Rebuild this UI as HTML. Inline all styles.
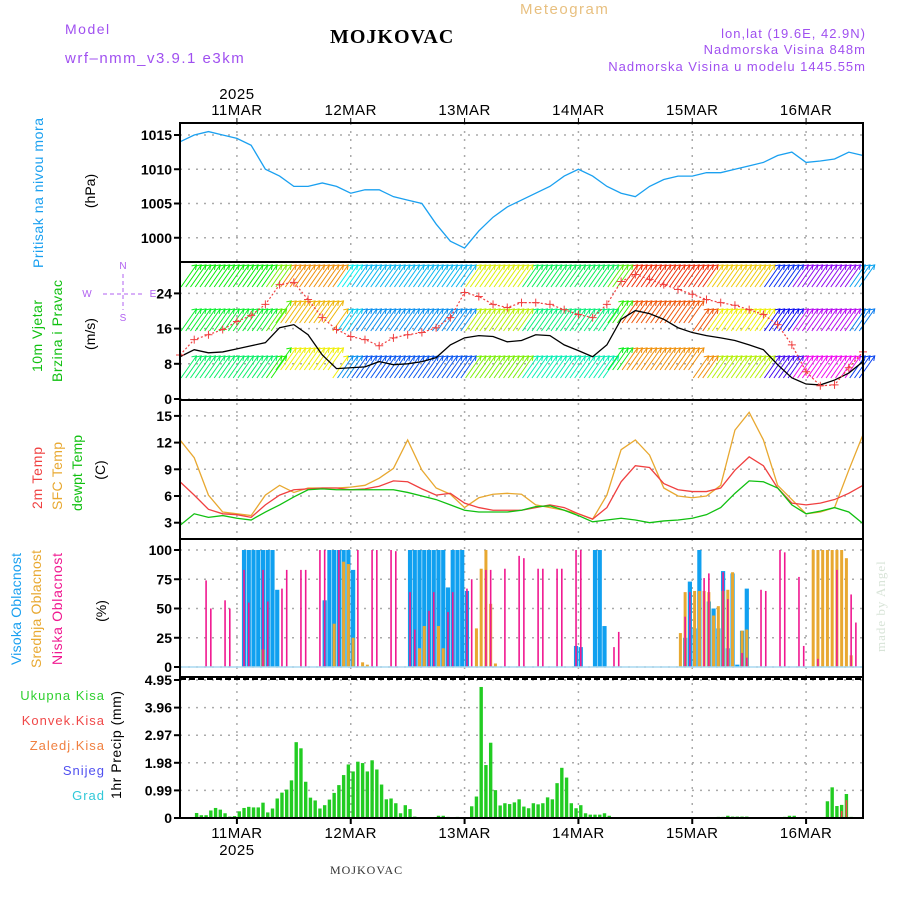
<!DOCTYPE html>
<html><head><meta charset="utf-8"><style>
body{margin:0;background:#fff;}
svg{display:block;font-family:"Liberation Sans",sans-serif;}
</style></head><body>
<svg id="chart" width="900" height="900" viewBox="0 0 900 900" xmlns="http://www.w3.org/2000/svg">
<rect width="900" height="900" fill="#fff"/>
<text x="65" y="34" font-size="14" fill="#a050f0" letter-spacing="1.5">Model</text>
<text x="65" y="63" font-size="15" fill="#a050f0" letter-spacing="1.5">wrf–nmm_v3.9.1 e3km</text>
<text x="330" y="43" font-size="20" font-weight="bold" font-family="Liberation Serif,serif" fill="#000" letter-spacing="1">MOJKOVAC</text>
<text x="520" y="14" font-size="15" fill="#e8c080" letter-spacing="1.5">Meteogram</text>
<text x="866" y="38" font-size="13" fill="#a050f0" text-anchor="end" letter-spacing="1">lon,lat (19.6E, 42.9N)</text>
<text x="866" y="54" font-size="13" fill="#a050f0" text-anchor="end" letter-spacing="1">Nadmorska Visina 848m</text>
<text x="866" y="71" font-size="13" fill="#a050f0" text-anchor="end" letter-spacing="1">Nadmorska Visina u modelu 1445.55m</text>
<text x="330" y="874" font-size="12" font-family="Liberation Serif,serif" fill="#333" letter-spacing="1">MOJKOVAC</text>
<text transform="translate(885,652) rotate(-90)" font-size="13" font-family="Liberation Serif,serif" fill="#d8e4d8" letter-spacing="1">made by Angel</text>

<g font-size="14">
<text transform="translate(43,193) rotate(-90)" text-anchor="middle" fill="#1aa0f0" textLength="150">Pritisak na nivou mora</text>
<text transform="translate(95,191) rotate(-90)" text-anchor="middle" fill="#000">(hPa)</text>
<text transform="translate(42,336) rotate(-90)" text-anchor="middle" fill="#10c010" textLength="72">10m Vjetar</text>
<text transform="translate(62,331) rotate(-90)" text-anchor="middle" fill="#10c010" textLength="102">Brzina i Pravac</text>
<text transform="translate(95,334) rotate(-90)" text-anchor="middle" fill="#000">(m/s)</text>
<text transform="translate(42,478) rotate(-90)" text-anchor="middle" fill="#f04040" textLength="62">2m Temp</text>
<text transform="translate(62,476) rotate(-90)" text-anchor="middle" fill="#e8a830" textLength="68">SFC Temp</text>
<text transform="translate(82,473) rotate(-90)" text-anchor="middle" fill="#10c010" textLength="76">dewpt Temp</text>
<text transform="translate(105,470) rotate(-90)" text-anchor="middle" fill="#000">(C)</text>
<text transform="translate(21,609) rotate(-90)" text-anchor="middle" fill="#1aa0f0" textLength="112">Visoka Oblacnost</text>
<text transform="translate(41,609) rotate(-90)" text-anchor="middle" fill="#e8a830" textLength="118">Srednja Oblacnost</text>
<text transform="translate(62,609) rotate(-90)" text-anchor="middle" fill="#f01890" textLength="112">Niska Oblacnost</text>
<text transform="translate(106,611) rotate(-90)" text-anchor="middle" fill="#000">(%)</text>
<text transform="translate(121,745) rotate(-90)" text-anchor="middle" fill="#000" textLength="108">1hr Precip (mm)</text>
</g>
<g font-size="13" text-anchor="end" letter-spacing="1">
<text x="105" y="700" fill="#30d030">Ukupna Kisa</text>
<text x="105" y="725" fill="#f04848">Konvek.Kisa</text>
<text x="105" y="750" fill="#f08040">Zaledj.Kisa</text>
<text x="105" y="775" fill="#5050f0">Snijeg</text>
<text x="105" y="800" fill="#30c8d8">Grad</text>
</g>
<g fill="#b060f0" stroke="#b060f0" font-size="10">
<text x="123" y="269" stroke="none" text-anchor="middle">N</text>
<text x="123" y="321" stroke="none" text-anchor="middle">S</text>
<text x="87" y="297" stroke="none" text-anchor="middle">W</text>
<text x="153" y="297" stroke="none" text-anchor="middle">E</text>
<line x1="123" y1="274" x2="123" y2="310" stroke-dasharray="4,3"/>
<line x1="103" y1="294" x2="143" y2="294" stroke-dasharray="4,3"/>
</g>
<g id="plot"></g>
</svg>
<script>
const dayLabels = ["11MAR","12MAR","13MAR","14MAR","15MAR","16MAR"];
const pressureTicks = [1000,1005,1010,1015];
const windTicks = [0,8,16,24];
const tempTicks = [3,6,9,12,15];
const cloudTicks = [0,25,50,75,100];
const precipTicks = ["0","0.99","1.98","2.97","3.96","4.95"];
const pressure = [1014,1015,1015.5,1015,1014.5,1013.5,1010,1009,1007.5,1007.5,1008,1007.5,1006.5,1007,1007,1006,1005.5,1005,1002,999.5,998.5,1001,1003,1004.5,1005.5,1006.5,1007.5,1009,1010,1009,1007.5,1006.5,1006,1007.5,1008.5,1009,1009,1009.5,1009.5,1010,1010.5,1011,1012,1012.5,1011,1011.2,1011.5,1012.5,1012];
const windSpeed = [9.6,11.2,10.5,10.7,11.4,12.1,12.8,16.2,16.9,14.6,10,6.9,7.1,7.3,8.5,7.8,8,8.5,9.4,12.3,13.9,14.4,14.2,13,13.3,14.6,14.4,12.3,11,9.6,12.3,18.1,20.1,19.4,18.1,16.2,15.1,14.4,13.9,13.3,12.3,11.2,7.8,4.8,3.4,3.2,4.3,5.9,8.5];
const windGust = [10,13.5,14.6,15.8,17.6,19,21.5,26,26.5,22.6,18.5,15.8,14.2,13.5,12.1,13.9,14.6,15.1,16.2,18.5,24.2,23.3,21.5,20.8,21.9,21.9,21.5,20.3,19.2,18.5,21.5,26.7,28.3,27.2,26,24.9,23.8,22.6,21.9,21.3,20.3,19.2,16.9,12.3,6.2,3,3.2,7.1,10.7];
const windHue = [120,120,120,120,120,120,90,35,35,35,35,180,195,195,195,195,195,195,195,195,65,65,65,65,140,140,140,140,140,140,100,10,10,10,10,10,10,50,50,50,50,230,230,275,275,275,275,200,200];
const temp2m = [7.6,6.1,4.5,4,3.9,3.6,5,6.1,6.7,6.8,6.9,6.9,6.7,6.8,7.1,7.7,7.6,6.8,6.1,6.3,5.2,4.7,4.4,4.4,4.4,4.7,5,4.7,4,3.4,4.7,7.6,9.4,9.2,7.4,6.7,6.5,6.5,6.9,8.9,10.4,9.4,6.9,5.2,5,5.2,5.6,6.3,7.2];
const tempSfc = [12.3,10.3,6.1,4.2,4,3.8,6.1,7.2,6.4,6.9,6.9,6.9,7,7.2,8,9.1,12.3,8.9,6.9,6.2,4.7,5.8,6.2,6.3,6.2,5,4.7,4.4,4,3.4,6.1,11.2,12.3,10.6,6.9,6,5.8,6,7.2,13.4,15.4,12.3,7.2,5.6,4,4.2,4.7,8.9,12.9];
const dewpoint = [2.7,4,3.6,3.8,3.5,3.3,4.2,5,5.9,6.7,6.8,6.7,6.7,6.7,6.7,6.7,6.4,6,5.6,5,4.4,4.2,4.2,4.2,4.4,4.8,4.9,4.4,3.8,3.1,3.3,3.5,3.3,3,3.2,3.3,3.5,3.9,4.7,6.3,7.7,7.6,6.9,5,4,4.3,4.7,4.2,2.9];
const cloudHigh = [0,0,0,0,0,0,0,0,0,0,0,0,0,100,100,100,100,100,100,100,66,0,0,0,0,0,0,0,0,0,57,100,100,100,100,100,83,0,0,0,0,0,0,0,0,0,0,0,100,100,100,100,100,100,100,100,68,100,100,100,65,0,0,0,0,0,0,0,0,0,0,0,0,0,0,0,0,0,0,0,0,0,0,18,17,0,0,100,100,35,0,0,0,0,0,0,0,0,0,0,0,0,0,0,0,0,25,73,33,100,0,56,50,33,82,16,80,2,31,67,0,0,0,0,0,0,0,0,0,0,0,0,0,0,0,0,0,0,0,0,0,0,0,0];
const cloudMid = [0,0,0,0,0,0,0,0,0,0,0,0,0,0,0,0,0,15,0,0,0,0,0,0,0,0,0,0,0,0,0,0,37,0,90,88,25,0,4,2,0,0,0,0,0,0,0,0,0,0,16,35,0,0,35,16,0,0,0,0,0,0,33,84,100,54,3,0,0,0,0,0,0,0,0,0,0,0,0,0,0,0,0,0,0,0,0,0,0,0,0,0,0,0,0,0,0,0,0,0,0,0,0,0,0,29,64,0,65,65,65,64,44,52,65,66,81,0,31,32,0,0,0,0,0,0,0,0,0,0,0,0,0,100,100,100,100,100,100,100,93,10,0,0];
const cloudLow = [0,0,0,0,0,74,50,0,0,57,50,0,0,83,55,0,0,83,56,0,0,67,83,0,0,83,83,0,0,100,100,0,0,100,0,0,0,100,0,0,100,100,0,0,100,99,0,0,64,32,0,0,48,64,0,0,47,64,0,0,67,75,0,0,83,83,0,0,84,0,0,95,93,0,0,84,84,0,0,84,84,0,0,100,100,0,0,0,0,0,0,17,30,0,0,0,0,0,0,0,0,0,0,0,0,0,43,64,0,0,76,80,0,0,81,58,0,0,12,8,0,0,66,65,0,0,100,98,0,0,77,18,0,0,7,0,0,0,83,0,0,62,38,0];
const precipTotal = [0,0,0,0.18,0.1,0.1,0.27,0.36,0.3,0.17,0.05,0.07,0.24,0.36,0.4,0.38,0.38,0.55,0.2,0.34,0.7,0.91,1.02,1.35,2.72,2.5,1.3,0.73,0.63,0.34,0.46,0.66,0.9,1.18,1.54,1.92,1.67,2.02,1.97,1.67,2.07,1.74,1.2,0.67,0.7,0.53,0.17,0.46,0.32,0.05,0,0,0,0,0.08,0.08,0.04,0,0.04,0,0,0.42,0.77,4.7,1.9,2.7,1,0.45,0.53,0.5,0.56,0.67,0.41,0.35,0.53,0.49,0.53,0.74,0.67,1.25,1.8,1.45,0.53,0.35,0.46,0.17,0.12,0.12,0.12,0.17,0.08,0,0,0,0,0,0,0,0,0,0,0,0,0,0,0,0,0,0,0,0,0,0,0.04,0.04,0.08,0.05,0.05,0.05,0.05,0,0,0,0,0,0,0,0.04,0.08,0.08,0,0,0,0,0,0,0.6,1.1,0.43,0.47,0.86,0.04,0,0];
const precipConv = new Array(144).fill(0);
precipConv[139] = 0.25;
precipConv[140] = 0.64;

const X0 = 180, X1 = 863, HOURS = 144;
const xH = h => X0 + h * (X1 - X0) / HOURS;
const x3 = i => xH(i * 3);
const yP = v => 135 + (1015 - v) * 6.85;
const yW = v => 399 - v * 4.4;
const yT = v => 496 - (v - 6) * 8.9;
const yC = v => 667 - v * 1.17;
const yR = v => 818 - v * 138 / 4.95;
const NS = "http://www.w3.org/2000/svg";
const plot = document.getElementById("plot");
function mk(tag, attrs, parent) {
  const e = document.createElementNS(NS, tag);
  for (const k in attrs) e.setAttribute(k, attrs[k]);
  (parent || plot).appendChild(e);
  return e;
}
const panels = [[123,262],[262,400],[400,539],[539,677],[677,818]];

const grid = mk("g", {stroke:"#aaa","stroke-width":1.5,"stroke-dasharray":"2,6"});


dayLabels.forEach((d, i) => {
  const x = xH(12 + 24 * i);
  mk("line", {x1:x, y1:123, x2:x, y2:818}, grid);
});
function hgrid(ticks, f, name) {
  ticks.forEach(t => {
    const l = mk("line", {x1:X0, x2:X1, y1:f(t), y2:f(t)}, grid);
    
    
  });
}
hgrid(pressureTicks, yP, 'pressure');
hgrid(windTicks, yW, 'wind');
hgrid(tempTicks, yT, 'temp');
hgrid(cloudTicks, yC, 'cloud');
hgrid(precipTicks.map(Number), yR, 'precip');

function ylabels(ticks, f, name) {
  const g = mk("g", {"font-size":14, "font-weight":"bold", "text-anchor":"end", fill:"#000"});
  
  
  ticks.forEach(t => {
    const y = f(Number(t));
    mk("text", {x:172, y:y + 5}, g).textContent = t;
    mk("line", {x1:174, x2:180, y1:y, y2:y, stroke:"#000", "stroke-width":2}, g);
  });
}
ylabels(pressureTicks, yP, 'pressure');
ylabels(windTicks, yW, 'wind');
ylabels(tempTicks, yT, 'temp');
ylabels(cloudTicks, yC, 'cloud');
ylabels(precipTicks, yR, 'precip');

const xl = mk("g", {"font-size":15, "text-anchor":"middle", fill:"#000", "letter-spacing":"0.5"});


dayLabels.forEach((d, i) => {
  const x = xH(12 + 24 * i);
  mk("text", {x:x, y:115}, xl).textContent = d;
  mk("text", {x:x, y:838}, xl).textContent = d;
  mk("line", {x1:x, x2:x, y1:118, y2:124, stroke:"#000"}, xl);
  mk("line", {x1:x, x2:x, y1:818, y2:824, stroke:"#000", "stroke-width":2}, xl);
});
mk("text", {x:xH(12), y:99}, xl).textContent = "2025";
mk("text", {x:xH(12), y:855}, xl).textContent = "2025";

function line(arr, f, color, name, w) {
  const p = mk("polyline", {points: arr.map((v, i) => x3(i) + "," + f(v)).join(" "), fill:"none", stroke:color, "stroke-width":w || 1.3});
  
  
  return p;
}
line(pressure, yP, "#1aa0f0", "pressure-line");

const wg = mk("g", {"stroke-width":1});


const rowBase = [287, 331, 378];
const rowShift = [0, 10, 25];
rowBase.forEach((b, r) => {
  for (let h = 0; h < HOURS; h++) {
    const hue = (windHue[Math.floor(h / 3)] + rowShift[r]) % 360;
    const col = "hsl(" + hue + ",95%,48%)";
    let bb = b;
    if (r > 0 && ((h >= 20 && h < 32) || (h >= 90 && h < 108))) bb = b - 8;
    const x = xH(h) + 1, len = 27, a = 55 * Math.PI / 180;
    const x2 = x + len * Math.cos(a), y2 = bb - len * Math.sin(a);
    mk("line", {x1:x, y1:bb, x2:x2, y2:y2, stroke:col}, wg);
    mk("polyline", {points:(x2-5)+","+(y2+1)+" "+x2+","+y2+" "+(x2-1)+","+(y2+5), fill:"none", stroke:col}, wg);
  }
});
line(windSpeed, yW, "#000", "wind-speed-line", 1.3);
line(windGust, yW, "#f04040", "wind-gust-line", 1.2).setAttribute("stroke-dasharray", "2,2");
const gm = mk("g", {stroke:"#f04040", "stroke-width":1});


windGust.forEach((v, i) => {
  const x = x3(i), y = yW(v);
  mk("path", {d:"M" + (x-4) + " " + y + "h8M" + x + " " + (y-4) + "v8"}, gm);
});

line(tempSfc, yT, "#e8a830", "sfc-temp-line");
line(temp2m, yT, "#f04040", "t2m-line");
line(dewpoint, yT, "#10c010", "dewpoint-line");

function bars(arr, f, color, w, name) {
  const g = mk("g", {fill:color});
  
  
  arr.forEach((v, h) => {
    if (v <= 0) return;
    const x = xH(h + 0.5), y = f(v);
    mk("rect", {x:x - w / 2, y:y, width:w, height:f(0) - y}, g);
  });
  return g;
}
bars(cloudHigh, yC, "#10a0f0", 4.2, "high-cloud-bars");
bars(cloudMid, yC, "#e8a830", 3, "mid-cloud-bars");
bars(cloudLow, yC, "#f01890", 1.6, "low-cloud-bars");
mk("line", {x1:X0, x2:X1, y1:yC(0), y2:yC(0), stroke:"#a8d8f0", "stroke-width":1.5});

bars(precipTotal, yR, "#22cc22", 3.4, "total-precip-bars");
bars(precipConv, yR, "#f04848", 1.6, "convective-precip-bars");

const fr = mk("g", {stroke:"#000", fill:"none", "stroke-width":2});


panels.forEach(p => mk("rect", {x:X0, y:p[0], width:X1 - X0, height:p[1] - p[0]}, fr));
mk("line", {x1:X0, x2:X1, y1:679, y2:679, stroke:"#000", "stroke-width":2, "stroke-dasharray":"6,3"});
</script>
</body></html>
